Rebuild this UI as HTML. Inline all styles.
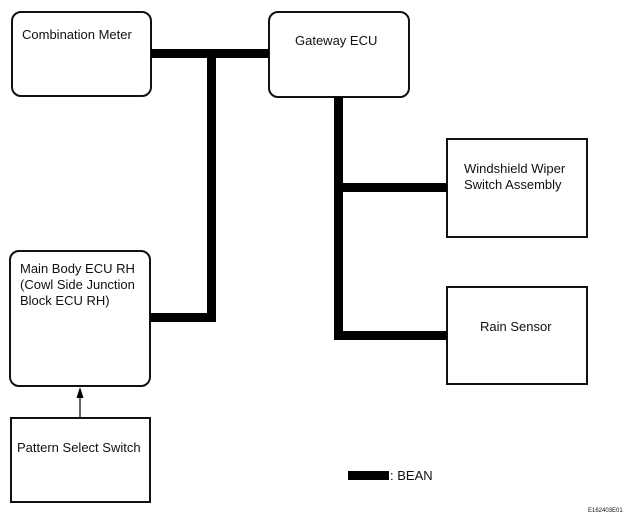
<!DOCTYPE html>
<html><head><style>body{margin:0;background:#fff}svg{display:block}text{font-family:"Liberation Sans",Arial,sans-serif;font-size:13px;fill:#111}</style></head>
<body>
<svg width="636" height="527" viewBox="0 0 636 527" xmlns="http://www.w3.org/2000/svg">
<g fill="none" stroke="#111" stroke-width="2">
<rect x="12" y="12" width="139" height="84" rx="9"/>
<rect x="269" y="12" width="140" height="85" rx="9"/>
<rect x="10" y="251" width="140" height="135" rx="9"/>
<rect x="11" y="418" width="139" height="84"/>
<rect x="447" y="139" width="140" height="98"/>
<rect x="447" y="287" width="140" height="97"/>
</g>
<g fill="#000">
<rect x="151" y="49" width="118" height="9"/>
<rect x="207" y="49" width="9" height="273"/>
<rect x="150" y="313" width="66" height="9"/>
<rect x="334" y="97" width="9" height="243"/>
<rect x="334" y="183" width="113" height="9"/>
<rect x="334" y="331" width="113" height="9"/>
<rect x="348" y="471" width="41" height="9"/>
<line x1="80" y1="418" x2="80" y2="396" stroke="#000" stroke-width="1.2"/>
<polygon points="80,387 76.5,398 83.5,398"/>
</g>
<text x="22" y="39">Combination Meter</text>
<text x="295" y="45">Gateway ECU</text>
<text x="20" y="273">Main Body ECU RH</text>
<text x="20" y="289">(Cowl Side Junction</text>
<text x="20" y="305">Block ECU RH)</text>
<text x="17" y="452">Pattern Select Switch</text>
<text x="464" y="173">Windshield Wiper</text>
<text x="464" y="189">Switch Assembly</text>
<text x="480" y="331">Rain Sensor</text>
<text x="390" y="480">: BEAN</text>
<text x="588" y="512" style="font-size:6px">E162403E01</text>
</svg>
</body></html>
